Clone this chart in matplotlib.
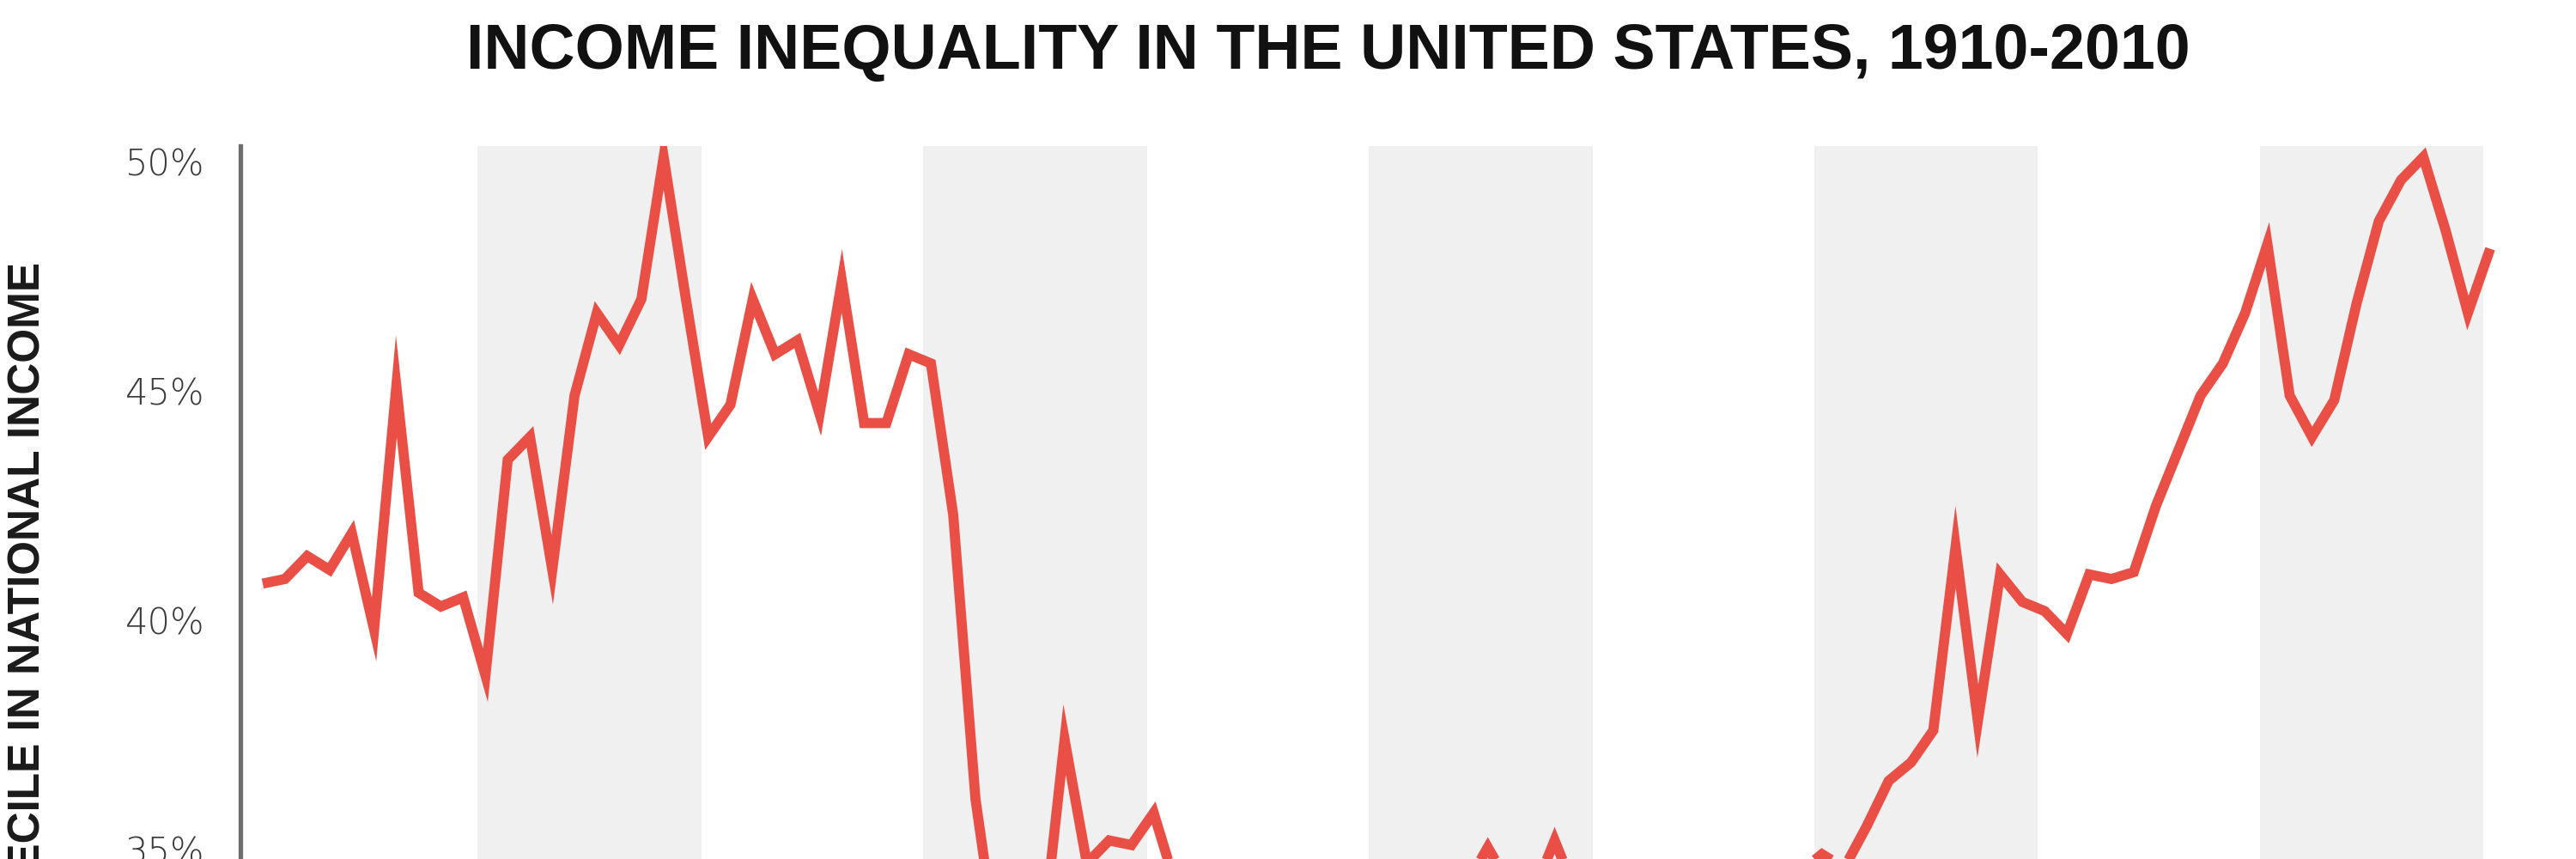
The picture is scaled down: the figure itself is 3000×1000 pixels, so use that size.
import matplotlib
matplotlib.use("Agg")
import matplotlib.pyplot as plt
from matplotlib import font_manager

# ---------------- data ----------------
years = list(range(1910, 2011))
top_decile_share = [
    40.8, 40.9, 41.4, 41.1, 41.9, 39.8, 45.1, 40.6, 40.3, 40.5,   # 1910-1919
    38.8, 43.5, 44.0, 41.1, 44.9, 46.7, 46.0, 47.0, 50.1, 47.0,   # 1920-1929
    44.0, 44.7, 47.0, 45.8, 46.1, 44.5, 47.4, 44.3, 44.3, 45.8,   # 1930-1939
    45.6, 42.3, 36.1, 32.7, 32.0, 33.0, 37.4, 34.7, 35.2, 35.1,   # 1940-1949
    35.8, 34.2, 33.5, 33.0, 34.0, 33.8, 33.6, 33.2, 33.5, 34.0,   # 1950-1959
    33.5, 34.0, 33.8, 33.5, 34.2, 35.05, 34.2, 34.0, 35.2, 34.0,  # 1960-1969
    33.5, 33.8, 33.9, 33.0, 33.2, 33.0, 33.4, 33.9, 34.2, 34.5,   # 1970-1979
    34.9, 34.6, 35.5, 36.5, 36.9, 37.6, 41.6, 37.8, 41.0, 40.4,   # 1980-1989
    40.2, 39.7, 41.0, 40.9, 41.05, 42.5, 43.7, 44.9, 45.6, 46.7,  # 1990-1999
    48.2, 44.9, 44.0, 44.8, 46.9, 48.7, 49.6, 50.1, 48.5, 46.7,   # 2000-2009
    48.1,                                                         # 2010
]
band_decades = [1920, 1940, 1960, 1980, 2000]
ytick_values = [25, 30, 35, 40, 45, 50]
ytick_labels = ["25%", "30%", "35%", "40%", "45%", "50%"]
title_text = "INCOME INEQUALITY IN THE UNITED STATES, 1910-2010"
ylabel_text = "SHARE OF TOP DECILE IN NATIONAL INCOME"

# ---------------- fonts ----------------
available = {f.name for f in font_manager.fontManager.ttflist}
title_family = "Liberation Sans Narrow" if "Liberation Sans Narrow" in available else "Liberation Sans"

# ---------------- figure ----------------
W, H, DPI = 3000, 1000, 100
fig = plt.figure(figsize=(W / DPI, H / DPI), dpi=DPI, facecolor="white")

# axes: left spine at x=280px, top at y=170px; bottom extends below the figure (cropped)
ax = fig.add_axes([280 / W, -0.523, 2640 / W, 1.353])
ax.set_xlim(1909.0, 2010.77)
ax.set_ylim(25, 50.34)

for d in band_decades:
    ax.axvspan(d - 0.35, d + 9.7, color="#f0f0f0", lw=0, zorder=0)

ax.plot(years, top_decile_share, color="#ea4f45", lw=8.5,
        solid_joinstyle="miter", solid_capstyle="butt", zorder=3)

for s in ["top", "right", "bottom"]:
    ax.spines[s].set_visible(False)
ax.spines["left"].set_color("#6e6e6e")
ax.spines["left"].set_linewidth(3.8)
ax.set_xticks([])
ax.set_yticks(ytick_values)
ax.set_yticklabels(ytick_labels, fontfamily="DejaVu Sans", fontweight="light",
                   fontsize=30, color="#3a3a3a")
ax.tick_params(axis="y", length=0, pad=30)
ax.set_facecolor("white")

fig.text(1547 / W, 1 - 80 / H, title_text, ha="center", va="baseline",
         fontfamily=title_family, fontweight="bold", fontsize=53, color="#111111")

fig.text(33 / W, 1 - 305 / H, ylabel_text, rotation=90, ha="center", va="top",
         fontfamily="Liberation Sans", fontweight="bold", fontsize=37, color="#1a1a1a")

fig.savefig("out.png", dpi=DPI, facecolor="white")
